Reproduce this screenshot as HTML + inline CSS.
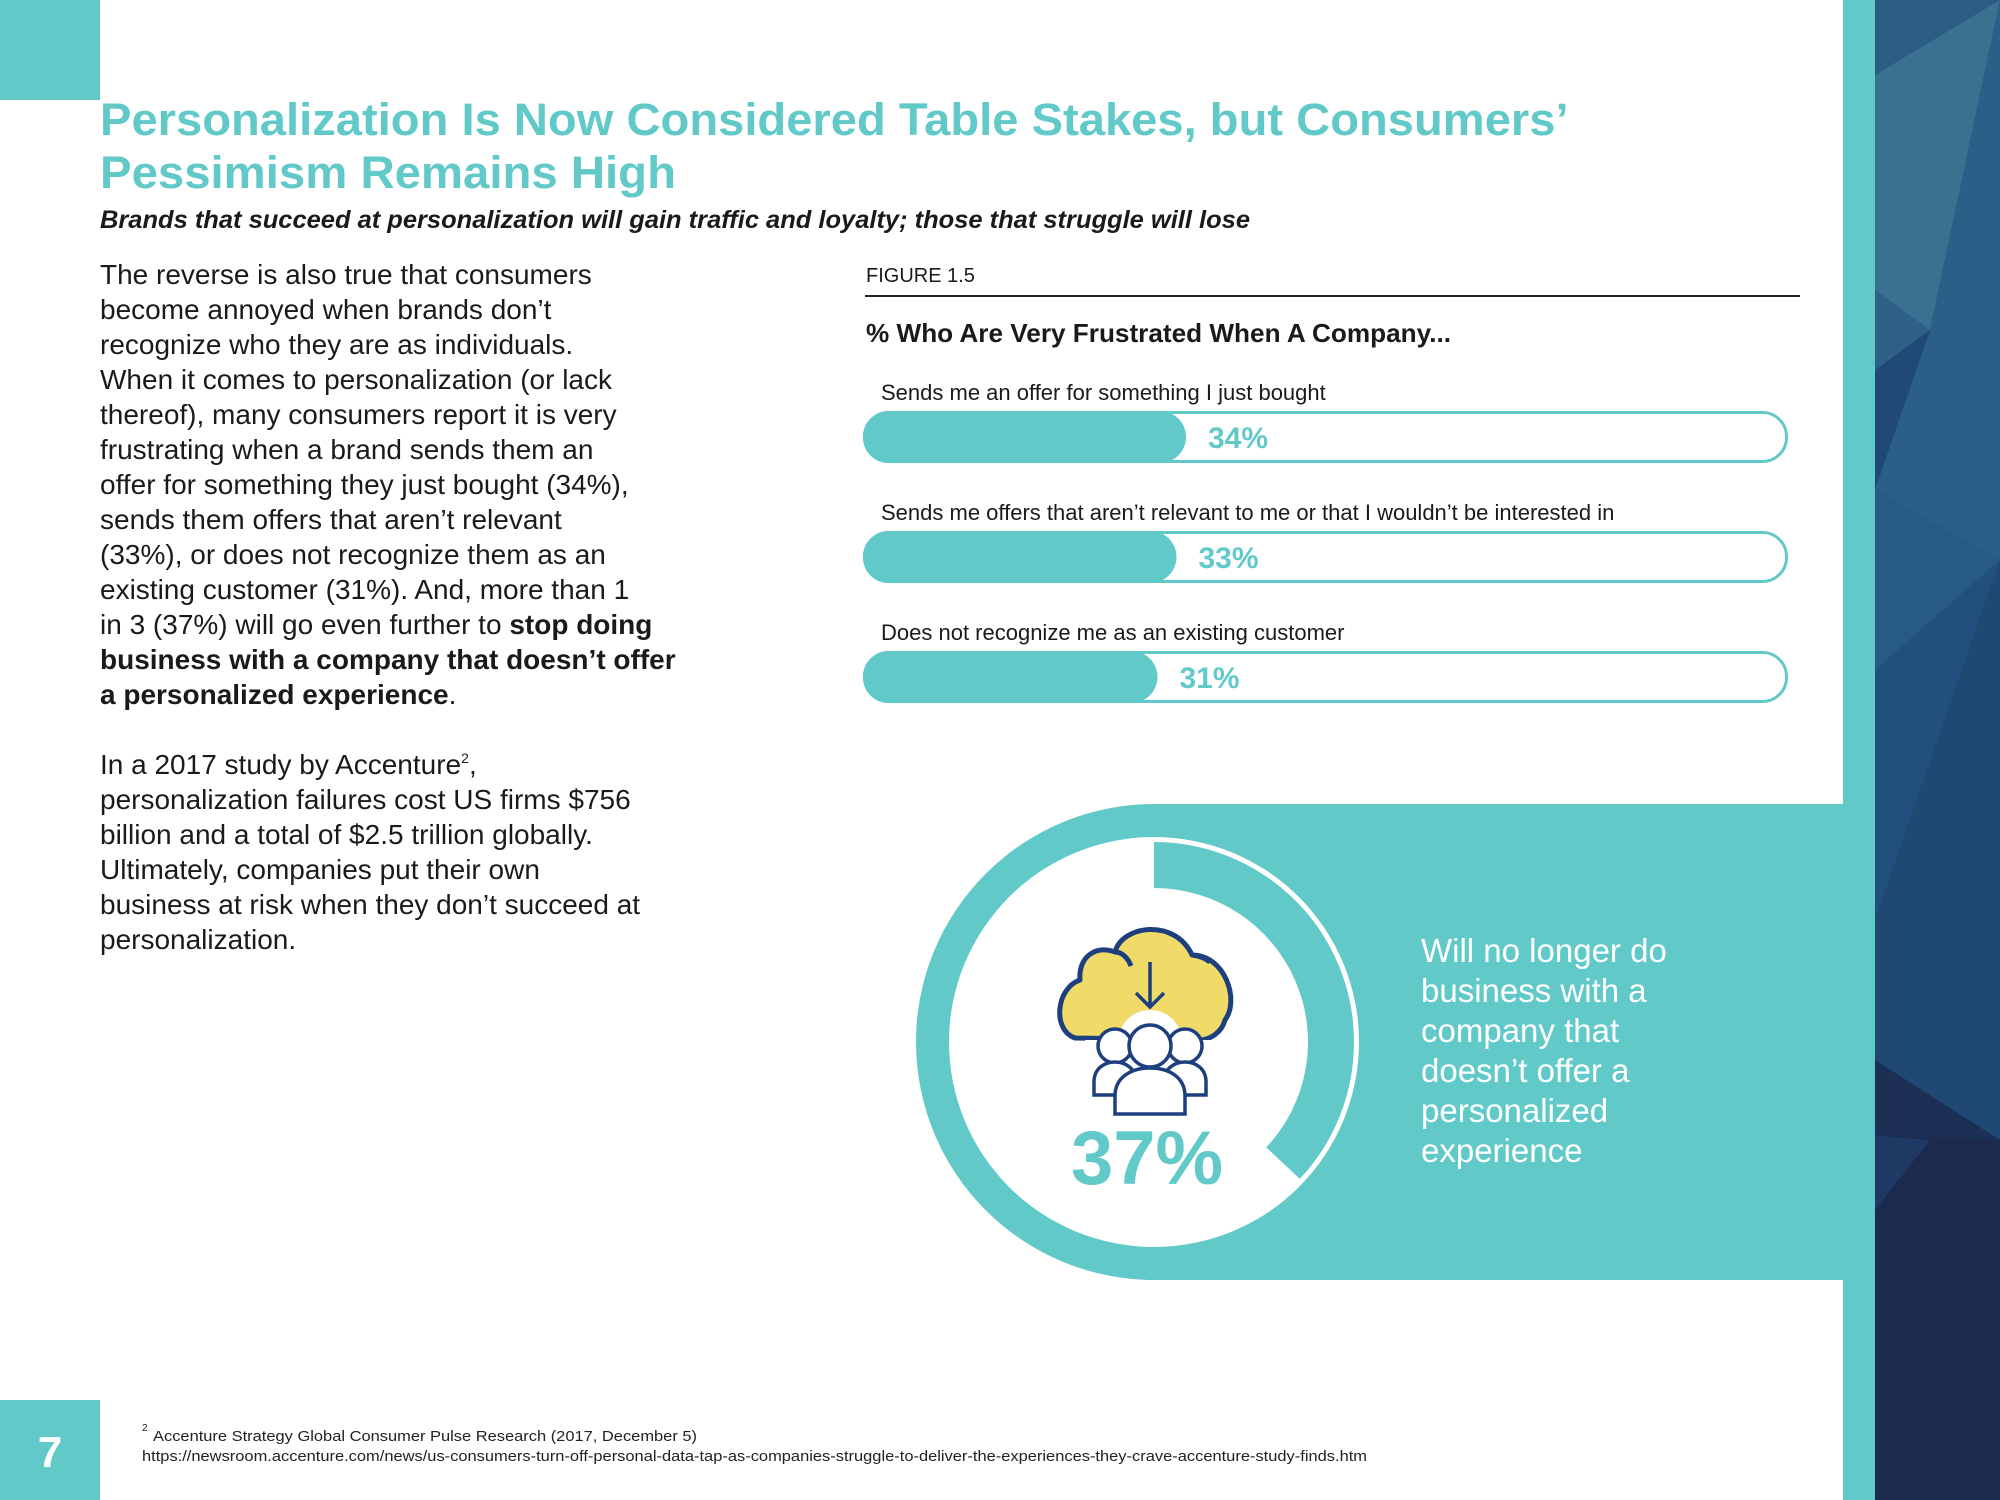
<!DOCTYPE html>
<html><head><meta charset="utf-8">
<style>
html,body{margin:0;padding:0;background:#fff;}
svg{display:block;}
text{font-family:"Liberation Sans",sans-serif;}
</style></head>
<body>
<svg id="page" width="2000" height="1500" viewBox="0 0 2000 1500" xmlns="http://www.w3.org/2000/svg">
  <rect x="0" y="0" width="2000" height="1500" fill="#ffffff"/>
  <g>
    <rect x="1843" y="0" width="32" height="1500" fill="#62c9c9"/>
    <rect x="1875" y="0" width="125" height="1500" fill="#1f4a76"/>
    <polygon points="1875,0 2000,0 2000,30 1875,75" fill="#2c5c84"/>
    <polygon points="1875,75 2000,0 1930,330 1875,290" fill="#3a7090"/>
    <polygon points="1875,290 1930,330 1875,370" fill="#2e6088"/>
    <polygon points="1930,330 2000,0 2000,560 1875,490" fill="#2c5f88"/>
    <polygon points="1875,490 2000,560 1875,670" fill="#285a86"/>
    <polygon points="1875,670 2000,560 1875,920" fill="#22507e"/>
    <polygon points="1875,920 2000,560 2000,1140 1875,1060" fill="#1f4873"/>
    <polygon points="1875,1060 2000,1140 1875,1135" fill="#1c2f55"/>
    <polygon points="1875,1135 2000,1140 2000,1500 1875,1500" fill="#1b2a4d"/>
    <polygon points="1875,1135 1930,1140 1875,1210" fill="#1e3a64"/>
  </g>
  <rect x="0" y="0" width="100" height="100" fill="#62c9c9"/>

  <text fill="#62c9c9" font-weight="bold" font-size="45">
    <tspan x="100" y="135" textLength="1466" lengthAdjust="spacingAndGlyphs">Personalization Is Now Considered Table Stakes, but Consumers’</tspan>
    <tspan x="100" y="188" textLength="576" lengthAdjust="spacingAndGlyphs">Pessimism Remains High</tspan>
  </text>
  <text x="100" y="228" fill="#1a1a1a" font-weight="bold" font-style="italic" font-size="25" textLength="1150" lengthAdjust="spacingAndGlyphs">Brands that succeed at personalization will gain traffic and loyalty; those that struggle will lose</text>

  <text fill="#1a1a1a" font-size="28">
    <tspan x="100" y="284">The reverse is also true that consumers</tspan>
    <tspan x="100" y="319">become annoyed when brands don’t</tspan>
    <tspan x="100" y="354">recognize who they are as individuals.</tspan>
    <tspan x="100" y="389">When it comes to personalization (or lack</tspan>
    <tspan x="100" y="424">thereof), many consumers report it is very</tspan>
    <tspan x="100" y="459">frustrating when a brand sends them an</tspan>
    <tspan x="100" y="494">offer for something they just bought (34%),</tspan>
    <tspan x="100" y="529">sends them offers that aren’t relevant</tspan>
    <tspan x="100" y="564">(33%), or does not recognize them as an</tspan>
    <tspan x="100" y="599">existing customer (31%). And, more than 1</tspan>
    <tspan x="100" y="634">in 3 (37%) will go even further to <tspan font-weight="bold">stop doing</tspan></tspan>
    <tspan x="100" y="669" font-weight="bold">business with a company that doesn’t offer</tspan>
    <tspan x="100" y="704"><tspan font-weight="bold">a personalized experience</tspan>.</tspan>
  </text>
  <text fill="#1a1a1a" font-size="28">
    <tspan x="100" y="774">In a 2017 study by Accenture<tspan font-size="14" dy="-11">2</tspan><tspan dy="11">,</tspan></tspan>
    <tspan x="100" y="809">personalization failures cost US firms $756</tspan>
    <tspan x="100" y="844">billion and a total of $2.5 trillion globally.</tspan>
    <tspan x="100" y="879">Ultimately, companies put their own</tspan>
    <tspan x="100" y="914">business at risk when they don’t succeed at</tspan>
    <tspan x="100" y="949">personalization.</tspan>
  </text>

  <text x="866" y="282" fill="#1a1a1a" font-size="20">FIGURE 1.5</text>
  <rect x="865" y="295" width="935" height="2" fill="#222"/>
  <text x="866" y="342" fill="#1a1a1a" font-size="26" font-weight="bold" textLength="585" lengthAdjust="spacingAndGlyphs">% Who Are Very Frustrated When A Company...</text>
  <g id="bars"></g>

  <g>
    <rect x="1154" y="804" width="690" height="476" fill="#62c9c9"/>
    <circle cx="1154" cy="1042" r="238" fill="#62c9c9"/>
    <circle cx="1154" cy="1042" r="205" fill="#ffffff"/>
    <path id="donut-arc" fill="#62c9c9"/>
  </g>
  <g>
    <path d="M1075,1038 C1052,1030 1056,988 1080,980 C1078,955 1098,945 1115,952 C1122,925 1175,918 1192,955 C1225,955 1240,1000 1225,1020 C1222,1032 1210,1040 1200,1040 Z" fill="#f0db69" stroke="#1e3f7e" stroke-width="5" stroke-linejoin="round"/>
    <path d="M1131,966 C1128,958 1122,952 1115,952" fill="none" stroke="#1e3f7e" stroke-width="5"/>
    <path d="M1192,955 C1200,956 1205,958 1210,962" fill="none" stroke="#1e3f7e" stroke-width="5"/>
    <path d="M1150,962 L1150,1006 M1136,993 L1150,1007 L1164,993" fill="none" stroke="#1e3f7e" stroke-width="3.5"/>
    <circle cx="1150" cy="1042" r="32" fill="#ffffff"/>
    <rect x="1085" y="1040" width="130" height="80" fill="#fff"/>
    <circle cx="1115" cy="1046" r="17" fill="#fff" stroke="#1e3f7e" stroke-width="3.5"/>
    <circle cx="1185" cy="1046" r="17" fill="#fff" stroke="#1e3f7e" stroke-width="3.5"/>
    <path d="M1094,1095 L1094,1082 C1094,1068 1105,1062 1115,1062 C1125,1062 1136,1068 1136,1082 L1136,1095 Z" fill="#fff" stroke="#1e3f7e" stroke-width="3.5"/>
    <path d="M1164,1095 L1164,1082 C1164,1068 1175,1062 1185,1062 C1195,1062 1206,1068 1206,1082 L1206,1095 Z" fill="#fff" stroke="#1e3f7e" stroke-width="3.5"/>
    <path d="M1115,1114 L1115,1096 C1115,1078 1130,1068 1150,1068 C1170,1068 1185,1078 1185,1096 L1185,1114 Z" fill="#fff" stroke="#1e3f7e" stroke-width="3.5"/>
    <circle cx="1150" cy="1046" r="21" fill="#fff" stroke="#1e3f7e" stroke-width="3.5"/>
  </g>
  <text id="donut-value" x="1147" y="1184" text-anchor="middle" fill="#62c9c9" font-size="76" font-weight="bold"></text>
  <text fill="#ffffff" font-size="33">
    <tspan x="1421" y="962">Will no longer do</tspan>
    <tspan x="1421" y="1002">business with a</tspan>
    <tspan x="1421" y="1042">company that</tspan>
    <tspan x="1421" y="1082">doesn’t offer a</tspan>
    <tspan x="1421" y="1122">personalized</tspan>
    <tspan x="1421" y="1162">experience</tspan>
  </text>

  <rect x="0" y="1400" width="100" height="100" fill="#62c9c9"/>
  <text x="50" y="1467" text-anchor="middle" fill="#fff" font-size="44" font-weight="bold">7</text>
  <text fill="#222" font-size="15">
    <tspan x="142" y="1436" font-size="10" dy="-5">2</tspan><tspan x="153" y="1441" textLength="544" lengthAdjust="spacingAndGlyphs">Accenture Strategy Global Consumer Pulse Research (2017, December 5)</tspan>
    <tspan x="142" y="1461" textLength="1225" lengthAdjust="spacingAndGlyphs">https://newsroom.accenture.com/news/us-consumers-turn-off-personal-data-tap-as-companies-struggle-to-deliver-the-experiences-they-crave-accenture-study-finds.htm</tspan>
  </text>
</svg>
<script>
const categories = ["Sends me an offer for something I just bought", "Sends me offers that aren’t relevant to me or that I wouldn’t be interested in", "Does not recognize me as an existing customer"];
const values = [34, 33, 31];
const valueLabels = ["34%", "33%", "31%"];
const donutValue = [37];
const donutLabel = ["37%"];

const NS = "http://www.w3.org/2000/svg";
const barX0 = 863, barX1 = 1788, barH = 52, rowTop = 411, rowStep = 120;
function xScale(v){ return barX0 + v * 9.5; }
function yRow(i){ return rowTop + i * rowStep; }
const g = document.getElementById('bars');
function mk(tag, attrs){ const e = document.createElementNS(NS, tag); for (const k in attrs) e.setAttribute(k, attrs[k]); return e; }
categories.forEach((c, i) => {
  const y = yRow(i);
  const lbl = mk('text', {x: 881, y: y - 11, fill: '#1a1a1a', 'font-size': 22});
  
  
  lbl.textContent = c;
  g.appendChild(lbl);
  const track = mk('rect', {x: barX0 + 1.5, y: y + 1.5, width: barX1 - barX0 - 3, height: barH - 3, rx: 24, fill: '#fff', stroke: '#62c9c9', 'stroke-width': 3});
  
  
  g.appendChild(track);
  const w = xScale(values[i]) - barX0;
  const bar = mk('rect', {x: barX0, y: y, width: w, height: barH, rx: 26, fill: '#62c9c9'});
  
  
  g.appendChild(bar);
  const vl = mk('text', {x: xScale(values[i]) + 22, y: y + 37, fill: '#62c9c9', 'font-size': 30, 'font-weight': 'bold'});
  
  
  vl.textContent = valueLabels[i];
  g.appendChild(vl);
});
(function(){
  const cx = 1154, cy = 1042, r0 = 154, r1 = 200;
  const a = donutValue[0] / 100 * 2 * Math.PI;
  const large = a > Math.PI ? 1 : 0;
  const p = (r, t) => [cx + r * Math.sin(t), cy - r * Math.cos(t)];
  const [ox0, oy0] = p(r1, 0), [ox1, oy1] = p(r1, a), [ix1, iy1] = p(r0, a), [ix0, iy0] = p(r0, 0);
  const d = `M${ox0},${oy0} A${r1},${r1} 0 ${large} 1 ${ox1},${oy1} L${ix1},${iy1} A${r0},${r0} 0 ${large} 0 ${ix0},${iy0} Z`;
  document.getElementById('donut-arc').setAttribute('d', d);
  document.getElementById('donut-value').textContent = donutLabel[0];
})();
</script>
</body></html>
